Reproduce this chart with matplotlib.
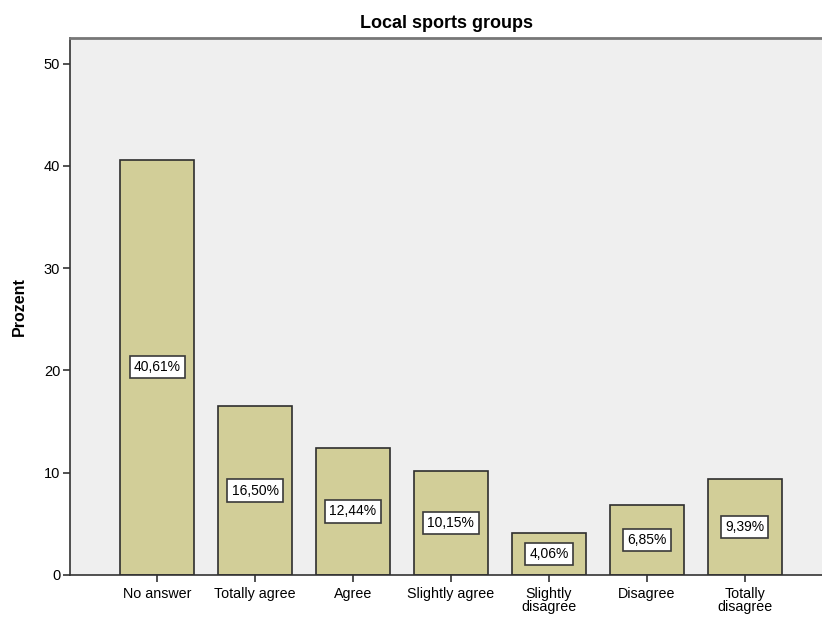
import matplotlib.pyplot as plt

categories = ['No answer', 'Totally agree', 'Agree', 'Slightly agree',
              'Slightly\ndisagree', 'Disagree', 'Totally\ndisagree']
percent = [40.61, 16.50, 12.44, 10.15, 4.06, 6.85, 9.39]
y_ticks = [0, 10, 20, 30, 40, 50]

plt.rcParams['font.family'] = ['Liberation Sans', 'DejaVu Sans']

fig = plt.figure(figsize=(8.22, 6.21), dpi=100)
ax = fig.add_axes([0.0852, 0.0741, 0.9148, 0.8647])
ax.set_facecolor('#efefef')

x = list(range(len(categories)))
ax.bar(x, percent, width=0.755, color='#d2ce98', edgecolor='#2e2e2e', linewidth=1.2, zorder=2)

for xi, v in zip(x, percent):
    label = ('%.2f%%' % v).replace('.', ',')
    ax.text(xi, v / 2, label, ha='center', va='center', fontsize=10, zorder=3,
            bbox=dict(boxstyle='square,pad=0.3', facecolor='white', edgecolor='#3a3a3a', linewidth=1.2))

ax.set_xlim(-0.89, 6.79)
ax.set_ylim(0, 52.5)
ax.set_yticks(y_ticks)
ax.set_xticks(x)
ax.set_xticklabels(categories, fontsize=10.3, linespacing=0.95)
ax.tick_params(axis='y', labelsize=10.5, length=5, width=1.2, direction='out', color='#333333', pad=2)
ax.tick_params(axis='x', length=5, width=1.2, direction='out', color='#333333')

ax.spines['right'].set_visible(False)
ax.spines['top'].set_color('#777777')
ax.spines['top'].set_linewidth(2)
ax.spines['left'].set_color('#333333')
ax.spines['left'].set_linewidth(1.2)
ax.spines['bottom'].set_color('#333333')
ax.spines['bottom'].set_linewidth(1.2)

ax.set_ylabel('Prozent', fontsize=11.5, fontweight='bold', labelpad=12)
ax.set_title('Local sports groups', fontsize=13, fontweight='bold', pad=7)

fig.savefig('out.png', dpi=100)
